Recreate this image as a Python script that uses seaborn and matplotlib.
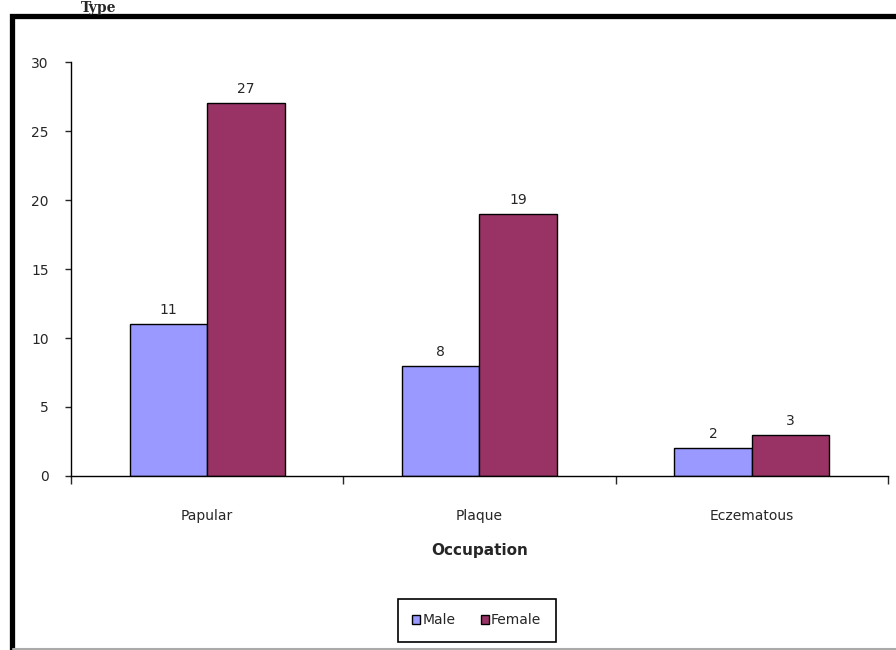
import pandas as pd
import matplotlib
matplotlib.use("Agg")
import matplotlib.pyplot as plt
import seaborn as sns
from matplotlib.patches import Rectangle
from matplotlib.lines import Line2D

# chart values
lesion_types = ["Papular", "Plaque", "Eczematous"]
male_counts = [11, 8, 2]
female_counts = [27, 19, 3]
series_names = ["Male", "Female"]
y_ticks = [0, 5, 10, 15, 20, 25, 30]

df = pd.DataFrame({
    "Type": lesion_types * 2,
    "Sex": [series_names[0]] * 3 + [series_names[1]] * 3,
    "Count": male_counts + female_counts,
})

sns.set_style("white")
plt.rcParams["font.family"] = ["DejaVu Sans"]

fig = plt.figure(figsize=(8.96, 6.5), dpi=100)
ax = fig.add_axes([0.0792, 0.2677, 0.9118, 0.6369])

sns.barplot(data=df, x="Type", y="Count", hue="Sex", order=lesion_types,
            hue_order=series_names, palette=["#9999FF", "#993366"],
            width=0.57, edgecolor="black", linewidth=1.0, saturation=1,
            ax=ax, legend=True)

for cont in ax.containers:
    ax.bar_label(cont, padding=5, fontsize=10)

ax.set_xlim(-0.5, 2.5)
ax.set_ylim(0, 30)
ax.set_yticks(y_ticks)
ax.set_yticklabels([str(v) for v in y_ticks], fontsize=10)
ax.tick_params(axis="y", direction="out", length=4, width=1, pad=12, left=True)
ax.set_xticks(range(len(lesion_types)))
ax.set_xticklabels(lesion_types, fontsize=10)
ax.set_xticks([-0.5, 0.5, 1.5, 2.5], minor=True)
ax.tick_params(axis="x", which="major", length=0, pad=24)
ax.tick_params(axis="x", which="minor", direction="out", length=6, width=1, bottom=True)
ax.set_xlabel("Occupation", fontsize=11, fontweight="bold", labelpad=14)
ax.set_ylabel("")

for side in ["top", "right"]:
    ax.spines[side].set_visible(False)
for side in ["left", "bottom"]:
    ax.spines[side].set_color("black")
    ax.spines[side].set_linewidth(1.0)

handles, labels = ax.get_legend_handles_labels()
ax.legend_.remove()
leg = fig.legend(handles, labels, loc="center", bbox_to_anchor=(0.532, 0.046),
                 ncol=2, frameon=True, fancybox=False, framealpha=1,
                 edgecolor="black", fontsize=10, handlelength=0.6,
                 handleheight=0.6, handletextpad=0.15, columnspacing=1.8,
                 borderpad=1.05)
leg.get_frame().set_linewidth(1.2)

# outer frame of the cropped chart
fig.add_artist(Rectangle((11.5 / 896, -0.1), 2.0, 1.0 - 16.5 / 650 + 0.1,
                         transform=fig.transFigure, fill=False,
                         edgecolor="black", linewidth=3.8))
fig.add_artist(Line2D([13 / 896, 1.0], [1.5 / 650, 1.5 / 650],
                      transform=fig.transFigure, color="#aaaaaa", linewidth=1.5))

fig.text(0.09, 1.0 - 1 / 650, "Type", family="DejaVu Serif", fontweight="bold",
         fontsize=10, ha="left", va="top")

fig.savefig("out.png", dpi=100, facecolor="white")
